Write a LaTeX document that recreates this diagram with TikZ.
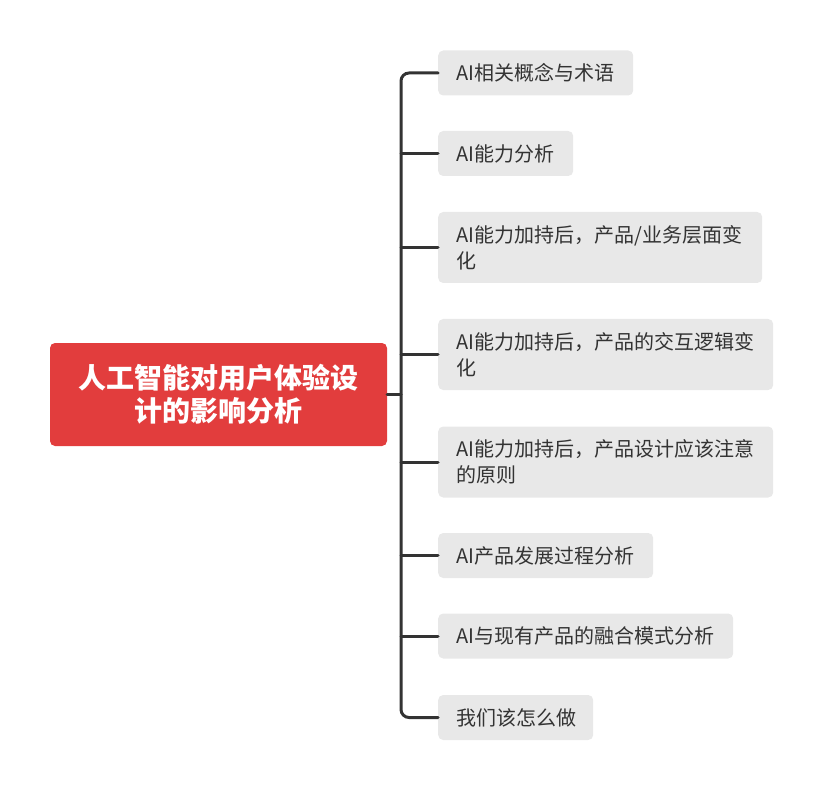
\documentclass[tikz,border=0pt]{standalone}
\usepackage{fontspec}
\newfontfamily\cjk{Noto Sans CJK SC}
\usetikzlibrary{positioning}
\definecolor{rootred}{HTML}{E23D3D}
\definecolor{leafgray}{HTML}{E8E8E8}
\definecolor{inkgray}{HTML}{333333}
\tikzset{
  root/.style={fill=rootred, rounded corners=5pt, text=white, align=center,
    minimum width=337pt, minimum height=103pt, inner sep=0pt,
    font=\cjk\bfseries\fontsize{28}{33}\selectfont},
  leaf/.style={fill=leafgray, rounded corners=5pt, text=inkgray, anchor=west,
    align=left, inner xsep=18pt, inner ysep=0pt, minimum height=45pt,
    font=\cjk\fontsize{20}{26}\selectfont},
  branch/.style={draw=inkgray, line width=3pt, line cap=round}
}
\begin{document}
\begin{tikzpicture}[x=1pt,y=-1pt]
\useasboundingbox (0,0) rectangle (824,791);
%%
\node (root) at (218.5,394.5) [root] {人工智能对用户体验设\\计的影响分析};
  \node (c_1) at (438,73) [leaf, text width=159pt] {AI相关概念与术语};
  \node (c_2) at (438,153.5) [leaf, text width=99pt] {AI能力分析};
  \node (c_3) at (438,247.5) [leaf, text width=288pt, minimum height=71pt] {AI能力加持后，产品/业务层面变\\化};
  \node (c_4) at (438,354.5) [leaf, text width=299pt, minimum height=71pt] {AI能力加持后，产品的交互逻辑变\\化};
  \node (c_5) at (438,462) [leaf, text width=299pt, minimum height=71pt] {AI能力加持后，产品设计应该注意\\的原则};
  \node (c_6) at (438,555.5) [leaf, text width=179pt] {AI产品发展过程分析};
  \node (c_7) at (438,636) [leaf, text width=259pt] {AI与现有产品的融合模式分析};
  \node (c_8) at (438,717.5) [leaf, text width=119pt] {我们该怎么做};
  \coordinate (trunk) at (401,394.5);
  \draw [branch] (root.east) -- (trunk);
  \draw [branch, rounded corners=8pt] (c_1.west) -- (c_1.west -| trunk) -- (c_8.west -| trunk) -- (c_8.west);
  \draw [branch] (c_2.west -| trunk) -- (c_2.west);
  \draw [branch] (c_3.west -| trunk) -- (c_3.west);
  \draw [branch] (c_4.west -| trunk) -- (c_4.west);
  \draw [branch] (c_5.west -| trunk) -- (c_5.west);
  \draw [branch] (c_6.west -| trunk) -- (c_6.west);
  \draw [branch] (c_7.west -| trunk) -- (c_7.west);
%
\end{tikzpicture}
\end{document}
